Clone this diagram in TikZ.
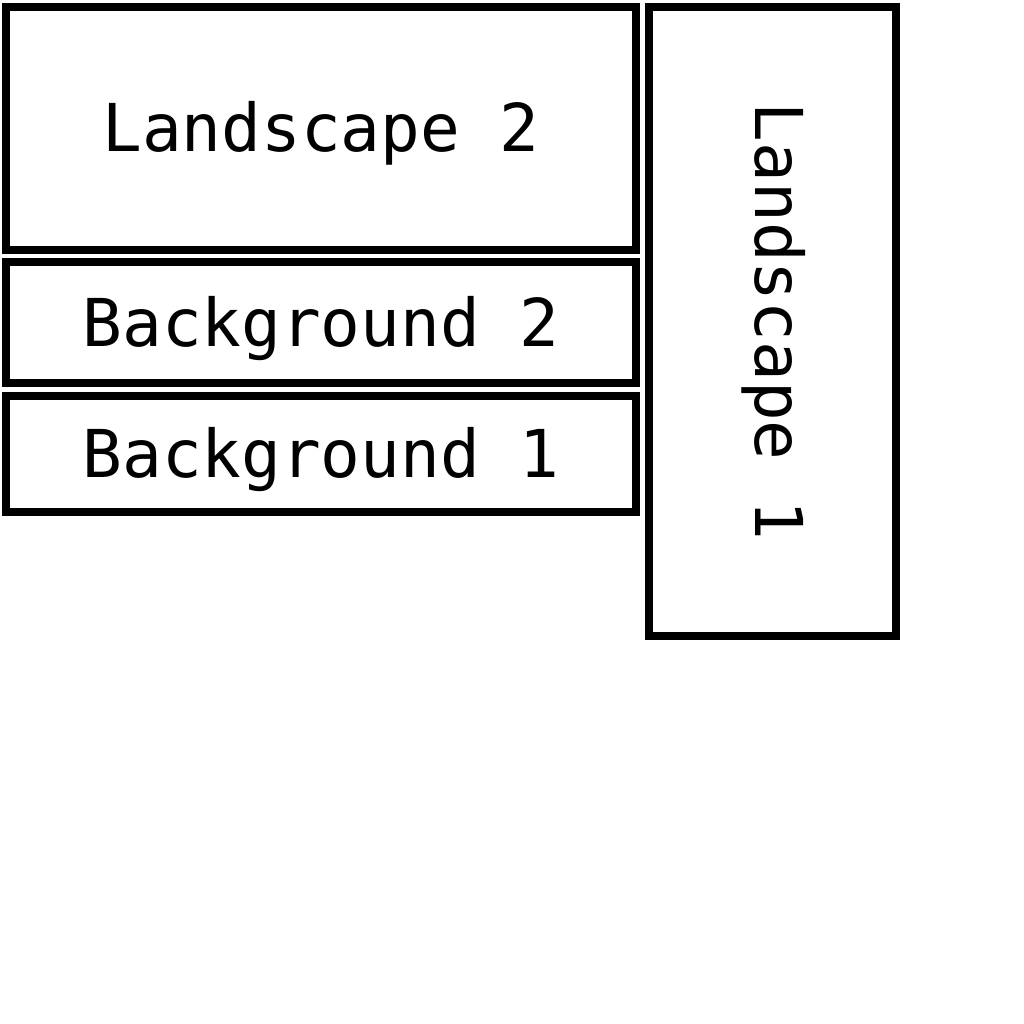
\documentclass[tikz,border=0pt]{standalone}
\usepackage{fontspec}
\setmonofont{DejaVu Sans Mono}
\tikzset{panel/.style = {draw, line width = 8pt, inner sep = 0pt, outer sep = 0pt,
	text height = 47pt, text depth = 0pt,
	font = \ttfamily\fontsize{66}{66}\selectfont}}
\begin{document}
\begin{tikzpicture} [x = 1pt, y = -1pt]
	\useasboundingbox (0,0) rectangle (1024,1024);
	\node (land2) [panel, minimum width = 630pt, minimum height = 243pt] at (321,128.5) {Landscape 2};
	\node (back2) [panel, minimum width = 630pt, minimum height = 121pt] at (321,322.5) {Background 2};
	\node (back1) [panel, minimum width = 630pt, minimum height = 116pt] at (321,454) {Background 1};
	%\node [panel] at (772.5,321.5) {};
	\node (land1) [panel, rotate = -90, text depth = 12pt, minimum width = 629pt, minimum height = 247pt] at (772.5,321.5) {Landscape 1};
\end{tikzpicture}
\end{document}
